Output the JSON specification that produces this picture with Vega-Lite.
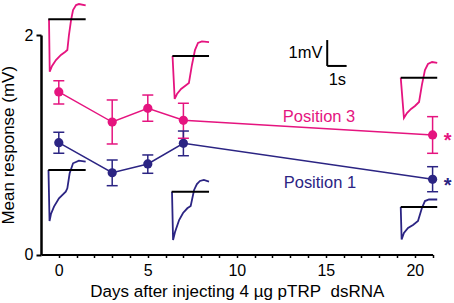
{
  "$schema": "https://vega.github.io/schema/vega-lite/v6.json",
  "autosize": "none",
  "width": 391.6,
  "height": 219.5,
  "padding": {"left": 41, "top": 35, "right": 21, "bottom": 48},
  "background": "white",
  "config": {
    "view": {"stroke": null},
    "font": "Liberation Sans",
    "axis": {"grid": false, "domainColor": "black", "tickColor": "black", "labelColor": "black", "titleColor": "black", "labelFont": "Liberation Sans", "titleFont": "Liberation Sans", "titleFontWeight": "normal"}
  },
  "datasets": {
    "pts": [
      {"series": "Position 3", "day": 0, "mv": 1.481, "lo": 1.371, "hi": 1.584},
      {"series": "Position 3", "day": 3, "mv": 1.207, "lo": 1.007, "hi": 1.408},
      {"series": "Position 3", "day": 5, "mv": 1.332, "lo": 1.214, "hi": 1.453},
      {"series": "Position 3", "day": 7, "mv": 1.223, "lo": 1.059, "hi": 1.378},
      {"series": "Position 3", "day": 21, "mv": 1.089, "lo": 0.922, "hi": 1.256},
      {"series": "Position 1", "day": 0, "mv": 1.019, "lo": 0.922, "hi": 1.113},
      {"series": "Position 1", "day": 3, "mv": 0.745, "lo": 0.627, "hi": 0.861},
      {"series": "Position 1", "day": 5, "mv": 0.825, "lo": 0.740, "hi": 0.907},
      {"series": "Position 1", "day": 7, "mv": 1.013, "lo": 0.900, "hi": 1.125},
      {"series": "Position 1", "day": 21, "mv": 0.685, "lo": 0.572, "hi": 0.800}
    ],
    "traces": [
      {"id": "m0", "series": "Position 3", "i": 0, "day": -0.55, "mv": 2.143},
      {"id": "m0", "series": "Position 3", "i": 1, "day": -0.51, "mv": 1.666},
      {"id": "m0", "series": "Position 3", "i": 2, "day": -0.38, "mv": 1.718},
      {"id": "m0", "series": "Position 3", "i": 3, "day": -0.16, "mv": 1.772},
      {"id": "m0", "series": "Position 3", "i": 4, "day": 0.12, "mv": 1.818},
      {"id": "m0", "series": "Position 3", "i": 5, "day": 0.35, "mv": 1.845},
      {"id": "m0", "series": "Position 3", "i": 6, "day": 0.48, "mv": 1.863},
      {"id": "m0", "series": "Position 3", "i": 7, "day": 0.57, "mv": 2.0},
      {"id": "m0", "series": "Position 3", "i": 8, "day": 0.69, "mv": 2.137},
      {"id": "m0", "series": "Position 3", "i": 9, "day": 0.80, "mv": 2.228},
      {"id": "m0", "series": "Position 3", "i": 10, "day": 0.97, "mv": 2.273},
      {"id": "m0", "series": "Position 3", "i": 11, "day": 1.13, "mv": 2.282},
      {"id": "m0", "series": "Position 3", "i": 12, "day": 1.51, "mv": 2.269},
      {"id": "m7", "series": "Position 3", "i": 0, "day": 6.39, "mv": 1.809},
      {"id": "m7", "series": "Position 3", "i": 1, "day": 6.51, "mv": 1.417},
      {"id": "m7", "series": "Position 3", "i": 2, "day": 6.64, "mv": 1.462},
      {"id": "m7", "series": "Position 3", "i": 3, "day": 6.87, "mv": 1.508},
      {"id": "m7", "series": "Position 3", "i": 4, "day": 7.09, "mv": 1.535},
      {"id": "m7", "series": "Position 3", "i": 5, "day": 7.31, "mv": 1.563},
      {"id": "m7", "series": "Position 3", "i": 6, "day": 7.48, "mv": 1.727},
      {"id": "m7", "series": "Position 3", "i": 7, "day": 7.65, "mv": 1.863},
      {"id": "m7", "series": "Position 3", "i": 8, "day": 7.82, "mv": 1.927},
      {"id": "m7", "series": "Position 3", "i": 9, "day": 8.04, "mv": 1.941},
      {"id": "m7", "series": "Position 3", "i": 10, "day": 8.44, "mv": 1.936},
      {"id": "m21", "series": "Position 3", "i": 0, "day": 19.21, "mv": 1.611},
      {"id": "m21", "series": "Position 3", "i": 1, "day": 19.39, "mv": 1.244},
      {"id": "m21", "series": "Position 3", "i": 2, "day": 19.56, "mv": 1.289},
      {"id": "m21", "series": "Position 3", "i": 3, "day": 19.79, "mv": 1.326},
      {"id": "m21", "series": "Position 3", "i": 4, "day": 20.01, "mv": 1.353},
      {"id": "m21", "series": "Position 3", "i": 5, "day": 20.24, "mv": 1.390},
      {"id": "m21", "series": "Position 3", "i": 6, "day": 20.40, "mv": 1.545},
      {"id": "m21", "series": "Position 3", "i": 7, "day": 20.57, "mv": 1.681},
      {"id": "m21", "series": "Position 3", "i": 8, "day": 20.74, "mv": 1.736},
      {"id": "m21", "series": "Position 3", "i": 9, "day": 20.97, "mv": 1.754},
      {"id": "m21", "series": "Position 3", "i": 10, "day": 21.26, "mv": 1.745},
      {"id": "n0", "series": "Position 1", "i": 0, "day": -0.58, "mv": 0.770},
      {"id": "n0", "series": "Position 1", "i": 1, "day": -0.52, "mv": 0.305},
      {"id": "n0", "series": "Position 1", "i": 2, "day": -0.44, "mv": 0.369},
      {"id": "n0", "series": "Position 1", "i": 3, "day": -0.27, "mv": 0.436},
      {"id": "n0", "series": "Position 1", "i": 4, "day": 0.01, "mv": 0.512},
      {"id": "n0", "series": "Position 1", "i": 5, "day": 0.39, "mv": 0.572},
      {"id": "n0", "series": "Position 1", "i": 6, "day": 0.48, "mv": 0.603},
      {"id": "n0", "series": "Position 1", "i": 7, "day": 0.61, "mv": 0.740},
      {"id": "n0", "series": "Position 1", "i": 8, "day": 0.80, "mv": 0.831},
      {"id": "n0", "series": "Position 1", "i": 9, "day": 1.13, "mv": 0.855},
      {"id": "n0", "series": "Position 1", "i": 10, "day": 1.51, "mv": 0.847},
      {"id": "n7", "series": "Position 1", "i": 0, "day": 6.36, "mv": 0.572},
      {"id": "n7", "series": "Position 1", "i": 1, "day": 6.42, "mv": 0.132},
      {"id": "n7", "series": "Position 1", "i": 2, "day": 6.53, "mv": 0.205},
      {"id": "n7", "series": "Position 1", "i": 3, "day": 6.76, "mv": 0.314},
      {"id": "n7", "series": "Position 1", "i": 4, "day": 6.98, "mv": 0.378},
      {"id": "n7", "series": "Position 1", "i": 5, "day": 7.22, "mv": 0.421},
      {"id": "n7", "series": "Position 1", "i": 6, "day": 7.41, "mv": 0.442},
      {"id": "n7", "series": "Position 1", "i": 7, "day": 7.60, "mv": 0.588},
      {"id": "n7", "series": "Position 1", "i": 8, "day": 7.76, "mv": 0.642},
      {"id": "n7", "series": "Position 1", "i": 9, "day": 7.93, "mv": 0.670},
      {"id": "n7", "series": "Position 1", "i": 10, "day": 8.15, "mv": 0.679},
      {"id": "n7", "series": "Position 1", "i": 11, "day": 8.44, "mv": 0.665},
      {"id": "n21", "series": "Position 1", "i": 0, "day": 19.21, "mv": 0.433},
      {"id": "n21", "series": "Position 1", "i": 1, "day": 19.26, "mv": 0.137},
      {"id": "n21", "series": "Position 1", "i": 2, "day": 19.39, "mv": 0.196},
      {"id": "n21", "series": "Position 1", "i": 3, "day": 19.62, "mv": 0.241},
      {"id": "n21", "series": "Position 1", "i": 4, "day": 19.90, "mv": 0.269},
      {"id": "n21", "series": "Position 1", "i": 5, "day": 20.18, "mv": 0.305},
      {"id": "n21", "series": "Position 1", "i": 6, "day": 20.40, "mv": 0.424},
      {"id": "n21", "series": "Position 1", "i": 7, "day": 20.57, "mv": 0.487},
      {"id": "n21", "series": "Position 1", "i": 8, "day": 20.80, "mv": 0.501},
      {"id": "n21", "series": "Position 1", "i": 9, "day": 21.26, "mv": 0.501}
    ],
    "baselines": [
      {"day": -0.59, "day2": 1.51, "mv": 2.143},
      {"day": 6.38, "day2": 8.44, "mv": 1.809},
      {"day": 19.21, "day2": 21.26, "mv": 1.611},
      {"day": -0.59, "day2": 1.51, "mv": 0.770},
      {"day": 6.34, "day2": 8.44, "mv": 0.572},
      {"day": 19.21, "day2": 21.26, "mv": 0.433}
    ],
    "scalebar": [
      {"day": 15.08, "day2": 15.08, "mv": 1.954, "mv2": 1.718},
      {"day": 15.08, "day2": 16.17, "mv": 1.718, "mv2": 1.718}
    ],
    "labels": [
      {"text": "Position 3", "series": "Position 3", "day": 14.62, "mv": 1.253},
      {"text": "Position 1", "series": "Position 1", "day": 14.67, "mv": 0.651}
    ],
    "stars": [
      {"text": "*", "series": "Position 3", "day": 21.85, "mv": 1.089},
      {"text": "*", "series": "Position 1", "day": 21.85, "mv": 0.679}
    ],
    "mvtext": [
      {"text": "1mV", "day": 14.81, "mv": 1.833}
    ],
    "stext": [
      {"text": "1s", "day": 15.65, "mv": 1.590}
    ]
  },
  "encoding": {
    "x": {
      "field": "day", "type": "quantitative",
      "scale": {"domain": [-1, 21], "nice": false, "zero": false},
      "axis": {
        "title": "Days after injecting 4 µg pTRP\u00a0 dsRNA",
        "values": [0,1,2,3,4,5,6,7,8,9,10,11,12,13,14,15,16,17,18,19,20,21],
        "labelExpr": "datum.value % 5 === 0 ? datum.label : ''",
        "tickSize": 3, "tickWidth": 1.5, "domainWidth": 2,
        "labelFontSize": 16, "labelPadding": 5, "labelFlush": false,
        "titleFontSize": 17, "titlePadding": 5
      }
    },
    "y": {
      "field": "mv", "type": "quantitative",
      "scale": {"domain": [0, 2], "nice": false},
      "axis": {
        "title": "Mean response (mV)",
        "values": [0, 1, 2],
        "format": "d",
        "tickSize": 5, "tickWidth": 2, "domainWidth": 2.5,
        "labelFontSize": 16, "labelPadding": 3,
        "titleFontSize": 17, "titlePadding": 7
      }
    },
    "color": {
      "field": "series", "type": "nominal",
      "scale": {"domain": ["Position 3", "Position 1"], "range": ["#E5147F", "#2B2483"]},
      "legend": null
    }
  },
  "layer": [
    {
      "data": {"name": "traces"},
      "mark": {"type": "line", "strokeWidth": 1.8, "clip": false},
      "encoding": {"detail": {"field": "id"}, "order": {"field": "i", "type": "quantitative"}}
    },
    {
      "data": {"name": "baselines"},
      "mark": {"type": "rule", "color": "black", "strokeWidth": 2, "clip": false},
      "encoding": {"x2": {"field": "day2"}, "color": {"value": "black"}}
    },
    {
      "data": {"name": "pts"},
      "mark": {"type": "line", "strokeWidth": 1.5},
      "encoding": {"order": {"field": "day", "type": "quantitative"}}
    },
    {
      "data": {"name": "pts"},
      "mark": {"type": "rule", "strokeWidth": 1.5},
      "encoding": {"y": {"field": "lo", "type": "quantitative", "title": "Mean response (mV)"}, "y2": {"field": "hi"}}
    },
    {
      "data": {"name": "pts"},
      "mark": {"type": "tick", "orient": "horizontal", "size": 11, "thickness": 1.5, "opacity": 1},
      "encoding": {"y": {"field": "lo", "type": "quantitative", "title": "Mean response (mV)"}}
    },
    {
      "data": {"name": "pts"},
      "mark": {"type": "tick", "orient": "horizontal", "size": 11, "thickness": 1.5, "opacity": 1},
      "encoding": {"y": {"field": "hi", "type": "quantitative", "title": "Mean response (mV)"}}
    },
    {
      "data": {"name": "pts"},
      "mark": {"type": "circle", "size": 85, "opacity": 1}
    },
    {
      "data": {"name": "scalebar"},
      "mark": {"type": "rule", "color": "black", "strokeWidth": 2, "clip": false},
      "encoding": {"x2": {"field": "day2"}, "y2": {"field": "mv2"}, "color": {"value": "black"}}
    },
    {
      "data": {"name": "labels"},
      "mark": {"type": "text", "fontSize": 16.5, "baseline": "middle", "align": "center"},
      "encoding": {"text": {"field": "text"}}
    },
    {
      "data": {"name": "stars"},
      "mark": {"type": "text", "fontSize": 20, "fontWeight": "bold", "baseline": "middle", "align": "center", "dy": 6},
      "encoding": {"text": {"field": "text"}}
    },
    {
      "data": {"name": "mvtext"},
      "mark": {"type": "text", "fontSize": 16.5, "baseline": "middle", "align": "right", "color": "black"},
      "encoding": {"text": {"field": "text"}, "color": {"value": "black"}}
    },
    {
      "data": {"name": "stext"},
      "mark": {"type": "text", "fontSize": 16.5, "baseline": "middle", "align": "center", "color": "black"},
      "encoding": {"text": {"field": "text"}, "color": {"value": "black"}}
    }
  ]
}
